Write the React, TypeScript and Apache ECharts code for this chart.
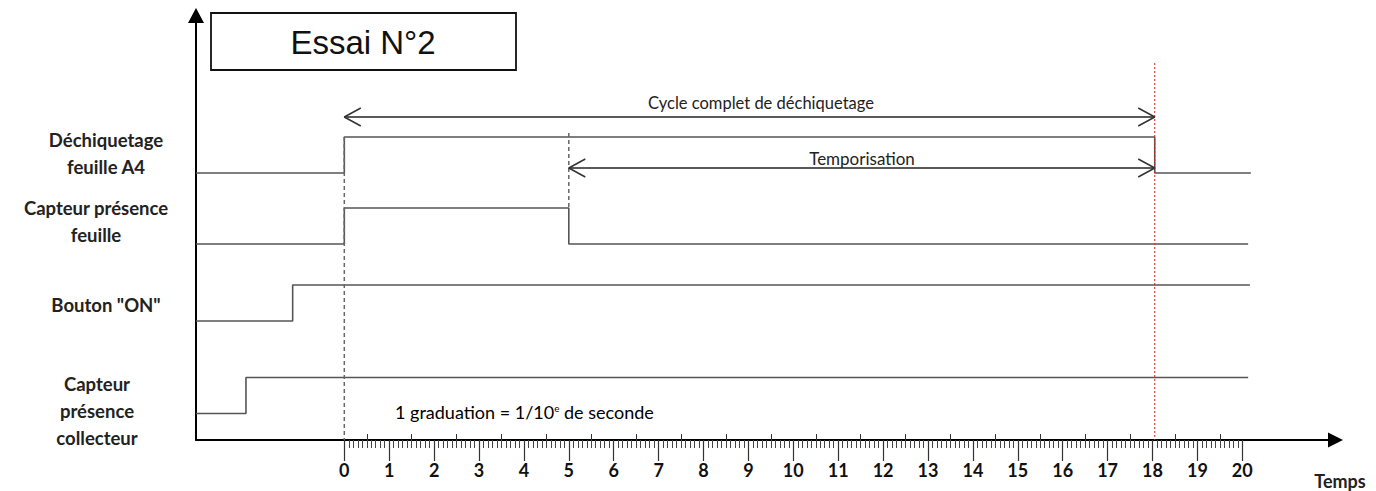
import React, { useEffect, useRef } from "react";
import * as echarts from "echarts";

// ---- data ----
const signalNames = [
  "Déchiquetage\nfeuille A4",
  "Capteur présence\nfeuille",
  'Bouton "ON"',
  "Capteur\nprésence\ncollecteur",
];
// [time (s), state 0/1]
const dechiquetageFeuilleA4 = [[-3.3, 0], [0, 1], [18.05, 0], [20.19, 0]];
const capteurPresenceFeuille = [[-3.3, 0], [0, 1], [5, 0], [20.13, 0]];
const boutonOn = [[-3.3, 0], [-1.15, 1], [20.17, 1]];
const capteurPresenceCollecteur = [[-3.3, 0], [-2.19, 1], [20.13, 1]];
const cycleStart = 0;
const temporisationStart = 5;
const cycleEnd = 18.05;
const tickLabels = Array.from({ length: 21 }, (_, i) => String(i));
const titleText = "Essai N°2";
const cycleLabel = "Cycle complet de déchiquetage";
const tempoLabel = "Temporisation";
const graduationText = "1 graduation = 1/10";
const axisName = "Temps";

// ---- layout ----
const W = 1376;
const H = 491;
const axisY = 440;
const gridTop = 15.5;
const gridLeft = 196;
const gridRightPx = 1335.5;
const t0px = 344.3;
const pxPerSec = 44.9;
const xMin = (gridLeft - t0px) / pxPerSec;
const xMax = (gridRightPx - t0px) / pxPerSec;
const yMax = axisY - gridTop;
// baseline (px above x axis) of each track
const trackBase = [267, 196, 119, 26.5];
const amp = 36;
const val = (py: number) => axisY - py; // pixel row -> axis value

export default function App() {
  const ref = useRef<HTMLDivElement>(null);
  useEffect(() => {
    document.body.style.margin = "0";
    const chart = echarts.init(ref.current!, null, { renderer: "svg" });
    const signals = [
      dechiquetageFeuilleA4,
      capteurPresenceFeuille,
      boutonOn,
      capteurPresenceCollecteur,
    ];
    const sigSeries = signals.map((s, i) => ({
      type: "line",
      step: "end",
      xAxisIndex: 0,
      yAxisIndex: 0,
      symbol: "none",
      silent: true,
      lineStyle: { color: "#555", width: 1.6 },
      data: s.map(([t, st]) => [t === -3.3 ? xMin : t, trackBase[i] + st * amp]),
    }));
    const high0 = trackBase[0] + amp;
    const high1 = trackBase[1] + amp;
    const lineS = (data: number[][], style: any) => ({
      type: "line",
      xAxisIndex: 0,
      yAxisIndex: 0,
      symbol: "none",
      silent: true,
      lineStyle: style,
      data,
    });
    const chevDx = 16.5 / pxPerSec;
    const chevDy = 9;
    const arrow = (a: number, b: number, y: number) => [
      lineS([[a, y], [b, y]], { color: "#222", width: 1.3 }),
      lineS([[a + chevDx, y + chevDy], [a, y], [a + chevDx, y - chevDy]], { color: "#333", width: 1.5 }),
      lineS([[b - chevDx, y + chevDy], [b, y], [b - chevDx, y - chevDy]], { color: "#333", width: 1.5 }),
    ];
    const cycleY = val(117);
    const tempoY = val(168);
    const series: any[] = [
      ...sigSeries,
      lineS([[cycleStart, high0], [cycleStart, 0]], { color: "#666", width: 1.5, type: [4, 3] }),
      lineS([[temporisationStart, val(133)], [temporisationStart, high1]], { color: "#666", width: 1.5, type: [4, 3] }),
      lineS([[cycleEnd, val(63)], [cycleEnd, 0]], { color: "#e02020", width: 1, type: [2, 2] }),
      ...arrow(cycleStart, cycleEnd, cycleY),
      ...arrow(temporisationStart, cycleEnd, tempoY),
    ];

    const labelPos = [
      { x: 106, y: 153.5 },
      { x: 96, y: 221.5 },
      { x: 106, y: 305 },
      { x: 97, y: 411 },
    ];
    const font = "Lato";
    chart.setOption({
      animation: false,
      grid: [
        { left: gridLeft, top: gridTop, width: gridRightPx - gridLeft, height: yMax },
        { left: t0px, top: gridTop, width: 20 * pxPerSec, height: yMax },
        { left: t0px + 0.5 * pxPerSec, top: gridTop, width: 19 * pxPerSec, height: yMax },
      ],
      xAxis: [
        {
          type: "value",
          gridIndex: 0,
          min: xMin,
          max: xMax,
          axisLine: {
            show: true,
            onZero: false,
            symbol: ["none", "triangle"],
            symbolSize: [15, 15],
            lineStyle: { color: "#000", width: 2 },
          },
          axisTick: { show: false },
          axisLabel: { show: false },
          splitLine: { show: false },
        },
        {
          type: "value",
          gridIndex: 1,
          min: 0,
          max: 20,
          interval: 1,
          axisLine: { show: false, onZero: false },
          axisTick: { show: true, length: 21, lineStyle: { color: "#333", width: 1.2 } },
          minorTick: { show: true, splitNumber: 10, length: 8, lineStyle: { color: "#444", width: 1 } },
          axisLabel: {
            show: true,
            margin: 21,
            fontFamily: font,
            fontWeight: "bold",
            fontSize: 18,
            color: "#111",
            formatter: (v: number) => tickLabels[Math.round(v)] ?? "",
          },
          splitLine: { show: false },
          minorSplitLine: { show: false },
        },
        {
          type: "value",
          gridIndex: 2,
          min: 0.5,
          max: 19.5,
          interval: 1,
          axisLine: { show: false, onZero: false },
          axisTick: { show: true, inside: true, length: 6, lineStyle: { color: "#333", width: 1 } },
          axisLabel: { show: false },
          splitLine: { show: false },
        },
      ],
      yAxis: [
        {
          type: "value",
          gridIndex: 0,
          min: 0,
          max: yMax,
          axisLine: {
            show: true,
            onZero: false,
            symbol: ["none", "triangle"],
            symbolSize: [16, 15],
            lineStyle: { color: "#000", width: 2 },
          },
          axisTick: { show: false },
          axisLabel: { show: false },
          splitLine: { show: false },
        },
        { type: "value", gridIndex: 1, show: false, min: 0, max: 1 },
        { type: "value", gridIndex: 2, show: false, min: 0, max: 1 },
      ],
      series,
      graphic: [
        {
          type: "rect",
          shape: { x: 211, y: 13, width: 305, height: 57 },
          style: { fill: "#fff", stroke: "#111", lineWidth: 1.8 },
        },
        {
          type: "text",
          x: 363,
          y: 42,
          style: {
            text: titleText,
            font: '33px "Liberation Sans", Arial, sans-serif',
            fill: "#111",
            align: "center",
            verticalAlign: "middle",
          },
        },
        ...signalNames.map((n, i) => ({
          type: "text",
          x: labelPos[i].x,
          y: labelPos[i].y,
          style: {
            text: n,
            font: `bold 18.5px ${font}`,
            lineHeight: 27,
            fill: "#222",
            align: "center",
            verticalAlign: "middle",
          },
        })),
        {
          type: "text",
          x: 761,
          y: 103,
          style: { text: cycleLabel, font: `16.5px ${font}`, fill: "#222", align: "center", verticalAlign: "middle" },
        },
        {
          type: "text",
          x: 862,
          y: 158,
          style: { text: tempoLabel, font: `17px ${font}`, fill: "#222", align: "center", verticalAlign: "middle" },
        },
        {
          type: "text",
          x: 395,
          y: 412,
          style: {
            text: `{a|${graduationText}}{s|e}{a| de seconde}`,
            rich: {
              a: { fontFamily: font, fontSize: 18, color: "#222" },
              s: { fontFamily: font, fontSize: 10, color: "#222", verticalAlign: "top", padding: [0, 0, 9, 0] },
            },
            align: "left",
            verticalAlign: "middle",
          },
        },
        {
          type: "text",
          x: 1340,
          y: 481,
          style: { text: axisName, font: `bold 18px ${font}`, fill: "#222", align: "center", verticalAlign: "middle" },
        },
      ],
    });
    return () => chart.dispose();
  }, []);
  return <div ref={ref} style={{ width: W, height: H }} />;
}
